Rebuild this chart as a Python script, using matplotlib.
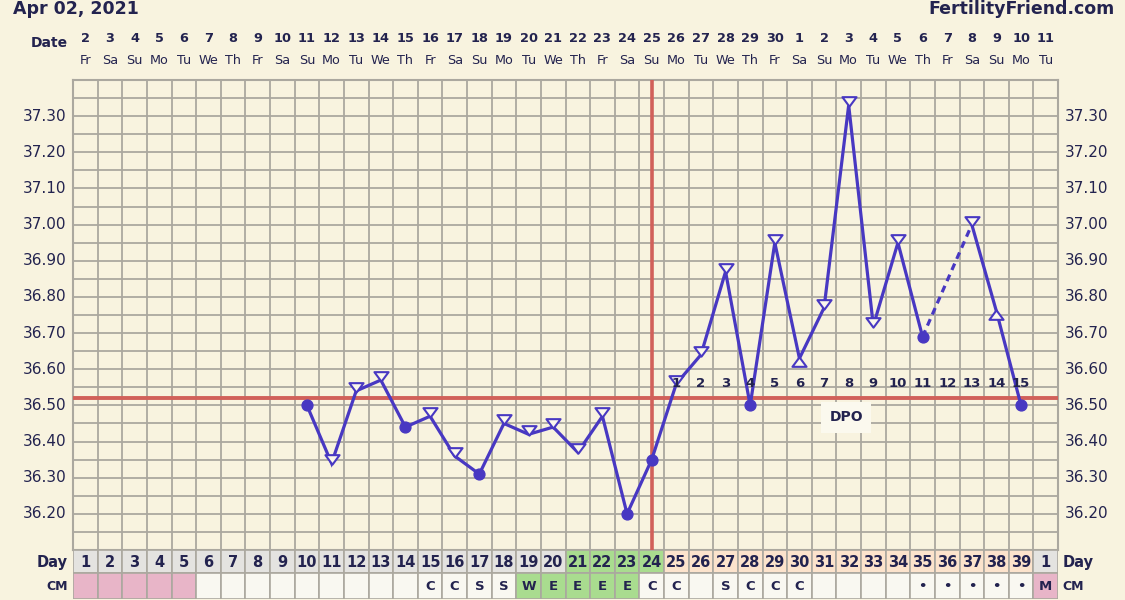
import matplotlib
matplotlib.use('Agg')
import matplotlib.pyplot as plt
from matplotlib.path import Path
from matplotlib.patches import Rectangle
from matplotlib.transforms import blended_transform_factory
import numpy as np

# ---------------- data ----------------
chart_date = "Apr 02, 2021"
site_name = "FertilityFriend.com"

date_nums = ['2', '3', '4', '5', '6', '7', '8', '9', '10', '11', '12', '13', '14', '15',
             '16', '17', '18', '19', '20', '21', '22', '23', '24', '25', '26', '27', '28',
             '29', '30', '1', '2', '3', '4', '5', '6', '7', '8', '9', '10', '11']
weekdays = ['Fr', 'Sa', 'Su', 'Mo', 'Tu', 'We', 'Th', 'Fr', 'Sa', 'Su', 'Mo', 'Tu', 'We', 'Th',
            'Fr', 'Sa', 'Su', 'Mo', 'Tu', 'We', 'Th', 'Fr', 'Sa', 'Su', 'Mo', 'Tu', 'We', 'Th',
            'Fr', 'Sa', 'Su', 'Mo', 'Tu', 'We', 'Th', 'Fr', 'Sa', 'Su', 'Mo', 'Tu']
cycle_day_labels = [str(d) for d in range(1, 40)] + ['1']

temp_days = [10, 11, 12, 13, 14, 15, 16, 17, 18, 19, 20, 21, 22, 23, 24, 25, 26, 27, 28, 29,
             30, 31, 32, 33, 34, 35, 36, 37, 38, 39]
temps = [36.50, 36.34, 36.54, 36.57, 36.44, 36.47, 36.36, 36.31, 36.45, 36.42, 36.44, 36.37,
         36.47, 36.20, 36.35, 36.56, 36.64, 36.87, 36.50, 36.95, 36.63, 36.77, 37.33, 36.72,
         36.95, 36.69, np.nan, 37.00, 36.76, 36.50]
# o = filled dot, v = open triangle down, ^ = open triangle up
marker_kind = ['o', 'v', 'v', 'v', 'o', 'v', 'v', 'o', 'v', 'v', 'v', 'v', 'v', 'o', 'o', 'v',
               'v', 'v', 'o', 'v', '^', 'v', 'v', 'v', 'v', 'o', '', 'v', '^', 'o']

cm_labels = ['', '', '', '', '', '', '', '', '', '', '', '', '', '', 'C', 'C', 'S', 'S', 'W', 'E',
             'E', 'E', 'E', 'C', 'C', '', 'S', 'C', 'C', 'C', '', '', '', '', '\u2022', '\u2022',
             '\u2022', '\u2022', '\u2022', 'M']
period_days = [1, 2, 3, 4, 5, 40]
fertile_days = [19, 20, 21, 22, 23]
coverline = 36.52
ovulation_day = 24
y_labels = [36.20, 36.30, 36.40, 36.50, 36.60, 36.70, 36.80, 36.90, 37.00, 37.10, 37.20, 37.30]

# ---------------- style ----------------
BG = '#F8F3DF'
GRID = '#ABA89F'
TXT = '#23234F'
BLUE = '#4838C2'
RED = '#D1605A'
GRAY_CELL = '#E4E3E0'
GREEN = '#A9DC8F'
PEACH = '#FCE3CC'
PINK = '#E8B5C8'
WHITE_CELL = '#F9F8F1'

W, H = 1125, 600
fig = plt.figure(figsize=(W / 100, H / 100), dpi=100, facecolor=BG)
plt.rcParams['font.family'] = ['DejaVu Sans']

left_px, right_px = 73, 1058
top_px, bot_px = 80, 550
ax = fig.add_axes([left_px / W, 1 - bot_px / H, (right_px - left_px) / W, (bot_px - top_px) / H])
ax.set_facecolor(BG)
ncol = len(date_nums)
ax.set_xlim(0.5, ncol + 0.5)
ax.set_ylim(36.10, 37.40)
ax.set_xticks(np.arange(0.5, ncol + 1, 1))
ax.set_yticks(np.arange(36.10, 37.401, 0.05))
ax.grid(True, color=GRID, lw=1.3)
ax.tick_params(length=0, labelbottom=False, labelleft=False)
for s in ax.spines.values():
    s.set_color(GRID)
    s.set_linewidth(1.5)

# y labels both sides
ytr = blended_transform_factory(ax.transAxes, ax.transData)
for v in y_labels:
    ax.text(-0.007, v, f"{v:.2f}", transform=ytr, ha='right', va='center', fontsize=11, color=TXT)
    ax.text(1.007, v, f"{v:.2f}", transform=ytr, ha='left', va='center', fontsize=11, color=TXT)

# coverline and ovulation line
ax.axhline(coverline, color=RED, lw=2.8, zorder=3)
ax.axvline(ovulation_day, color=RED, lw=2.6, zorder=3)

# temperature line
td = np.array(temp_days, dtype=float)
tv = np.array(temps, dtype=float)
ax.plot(td, tv, color=BLUE, lw=2.3, zorder=4, solid_joinstyle='miter')
# dashed bridge over missing readings
valid = ~np.isnan(tv)
idx = np.where(~valid)[0]
for i in idx:
    a, b = i - 1, i + 1
    ax.plot([td[a], td[b]], [tv[a], tv[b]], color=BLUE, lw=2.3, ls=(0, (2.2, 1.6)), zorder=4)

tri_down = Path([(-0.72, 0.85), (0.72, 0.85), (0.0, -0.12), (-0.72, 0.85)],
                [Path.MOVETO, Path.LINETO, Path.LINETO, Path.CLOSEPOLY])
tri_up = Path([(-0.72, -0.85), (0.72, -0.85), (0.0, 0.12), (-0.72, -0.85)],
              [Path.MOVETO, Path.LINETO, Path.LINETO, Path.CLOSEPOLY])
mk = np.array(marker_kind)
for kind, path in (('v', tri_down), ('^', tri_up)):
    sel = mk == kind
    ax.plot(td[sel], tv[sel], ls='none', marker=path, markersize=12,
            markerfacecolor='#FBF8EC', markeredgecolor=BLUE, markeredgewidth=1.5, zorder=5)
sel = mk == 'o'
ax.plot(td[sel], tv[sel], ls='none', marker='o', markersize=7.8,
        markerfacecolor=BLUE, markeredgecolor=BLUE, zorder=5)

# DPO numbers
for k, d in enumerate(range(ovulation_day + 1, ncol)):
    ax.text(d, coverline + 0.04, str(k + 1), ha='center', va='center', fontsize=9.5,
            fontweight='bold', color=TXT, zorder=6)
ax.text(31.9, 36.467, 'DPO', ha='center', va='center', fontsize=10, fontweight='bold',
        color=TXT, zorder=6,
        bbox=dict(boxstyle='square,pad=0.6', facecolor='#FBF9EE', edgecolor='none'))

# header
htr = blended_transform_factory(ax.transData, fig.transFigure)
for i, (dn, wd) in enumerate(zip(date_nums, weekdays)):
    x = i + 1
    ax.text(x, 1 - 38 / H, dn, transform=htr, ha='center', va='center', fontsize=9.3,
            fontweight='bold', color=TXT)
    ax.text(x, 1 - 61 / H, wd, transform=htr, ha='center', va='center', fontsize=9.2,
            color=TXT)
fig.text(68 / W, 1 - 43 / H, 'Date', ha='right', va='center', fontsize=10, fontweight='bold',
         color=TXT)
fig.text(13 / W, 1 - 14 / H, chart_date, ha='left', va='baseline', fontsize=12.5,
         fontweight='bold', color=TXT)
fig.text(1115 / W, 1 - 14 / H, site_name, ha='right', va='baseline', fontsize=12.5,
         fontweight='bold', color=TXT)

# Day / CM rows
row_top, row_bot = 550, 599
rax = fig.add_axes([left_px / W, 1 - row_bot / H, (right_px - left_px) / W, (row_bot - row_top) / H])
rax.set_xlim(0.5, ncol + 0.5)
rax.set_ylim(0, 2)
rax.axis('off')
for i in range(ncol):
    d = i + 1
    if d == ncol:
        dc = GRAY_CELL
    elif ovulation_day - 3 <= d <= ovulation_day:
        dc = GREEN
    elif ovulation_day < d < ncol:
        dc = PEACH
    else:
        dc = GRAY_CELL
    if d in period_days:
        cc = PINK
    elif d in fertile_days:
        cc = GREEN
    else:
        cc = WHITE_CELL
    rax.add_patch(Rectangle((d - 0.5, 1.05), 1, 0.95, facecolor=dc, edgecolor=GRID, lw=1.2))
    rax.add_patch(Rectangle((d - 0.5, 0.0), 1, 1.05, facecolor=cc, edgecolor=GRID, lw=1.2))
    rax.text(d, 1.5, cycle_day_labels[i], ha='center', va='center', fontsize=10.5,
             fontweight='bold', color=TXT)
    rax.text(d, 0.5, cm_labels[i], ha='center', va='center', fontsize=9.5,
             fontweight='bold', color=TXT)
fig.text(68 / W, 1 - 562 / H, 'Day', ha='right', va='center', fontsize=10.5, fontweight='bold', color=TXT)
fig.text(1063 / W, 1 - 562 / H, 'Day', ha='left', va='center', fontsize=10.5, fontweight='bold', color=TXT)
fig.text(68 / W, 1 - 587 / H, 'CM', ha='right', va='center', fontsize=9, fontweight='bold', color=TXT)
fig.text(1062 / W, 1 - 587 / H, 'CM', ha='left', va='center', fontsize=9, fontweight='bold', color=TXT)

fig.savefig('out.png', dpi=100, facecolor=BG)
